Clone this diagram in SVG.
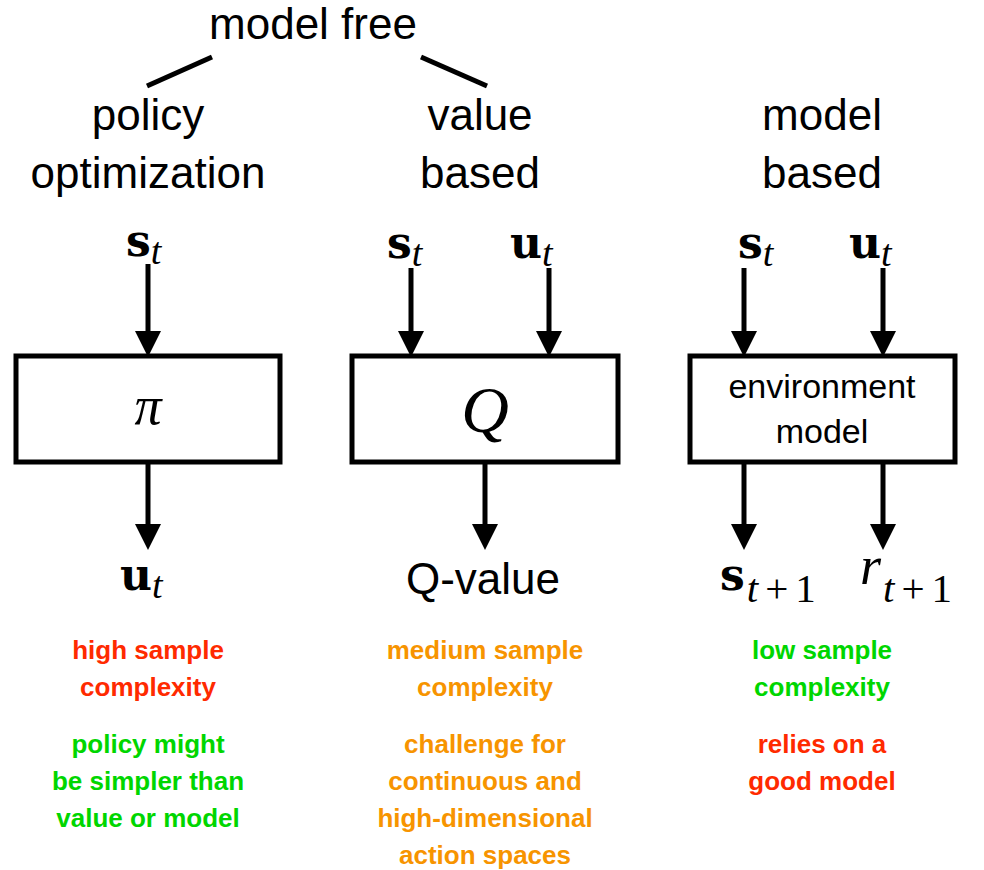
<svg xmlns="http://www.w3.org/2000/svg" width="984" height="870" viewBox="0 0 984 870">
<style>
.h{font-family:"Liberation Sans",Arial,sans-serif;font-size:44px;fill:#000;text-anchor:middle}
.box{fill:#fff;stroke:#000;stroke-width:5}
.ln{stroke:#000;stroke-width:5;fill:none}
.bs{font-family:"DejaVu Serif","Liberation Serif",serif;font-weight:bold;font-size:44px}
.it{font-family:"Liberation Serif","Times New Roman",serif;font-style:italic}
.sub{font-family:"Liberation Serif","Times New Roman",serif;font-size:38px}
.sub2{font-family:"Liberation Serif","Times New Roman",serif;font-size:41px}
.n{font-family:"Liberation Sans",Arial,sans-serif;font-weight:bold;font-size:26px;text-anchor:middle}
.red{fill:#ff2a00}.org{fill:#f79400}.grn{fill:#00d600}
</style>
<defs>
<marker id="ah" markerUnits="userSpaceOnUse" viewBox="0 0 26 26" refX="0" refY="13" markerWidth="26" markerHeight="26" orient="auto">
<path d="M0,0 L26,13 L0,26 Z" fill="#000"/>
</marker>
</defs>

<g id="title">
<text class="h" x="313" y="39">model free</text>
</g>
<g id="cat-policy">
<text class="h" x="148" y="130">policy</text>
<text class="h" x="148" y="188">optimization</text>
</g>
<g id="cat-value">
<text class="h" x="480" y="130">value</text>
<text class="h" x="480" y="188">based</text>
</g>
<g id="cat-model">
<text class="h" x="822" y="130">model</text>
<text class="h" x="822" y="188">based</text>
</g>

<g id="connectors">
<line class="ln" x1="147" y1="86" x2="212" y2="57" stroke-width="6"/>
<line class="ln" x1="421" y1="57" x2="487" y2="86" stroke-width="6"/>
<path class="ln" d="M148,264 V331" marker-end="url(#ah)"/>
<path class="ln" d="M411,268 V331" marker-end="url(#ah)"/>
<path class="ln" d="M549,268 V331" marker-end="url(#ah)"/>
<path class="ln" d="M744,268 V331" marker-end="url(#ah)"/>
<path class="ln" d="M883,268 V331" marker-end="url(#ah)"/>
<path class="ln" d="M148,463 V524" marker-end="url(#ah)"/>
<path class="ln" d="M485,463 V524" marker-end="url(#ah)"/>
<path class="ln" d="M744,463 V524" marker-end="url(#ah)"/>
<path class="ln" d="M883,463 V524" marker-end="url(#ah)"/>
</g>

<g id="in-policy">
<text x="126" y="256"><tspan class="bs">s</tspan><tspan class="sub it" dy="8">t</tspan></text>
</g>
<g id="in-value">
<text x="387" y="258"><tspan class="bs">s</tspan><tspan class="sub it" dy="8">t</tspan></text>
<text x="510" y="258"><tspan class="bs">u</tspan><tspan class="sub it" dy="8">t</tspan></text>
</g>
<g id="in-model">
<text x="738" y="258"><tspan class="bs">s</tspan><tspan class="sub it" dy="8">t</tspan></text>
<text x="849" y="258"><tspan class="bs">u</tspan><tspan class="sub it" dy="8">t</tspan></text>
</g>

<g id="node-pi">
<rect class="box" x="16" y="356" width="264" height="106"/>
<text class="it" x="148" y="424" font-size="54" text-anchor="middle">π</text>
</g>
<g id="node-q">
<rect class="box" x="352" y="356" width="266" height="106"/>
<text class="it" x="485" y="432" font-size="66" text-anchor="middle">Q</text>
</g>
<g id="node-env">
<rect class="box" x="690" y="356" width="265" height="106"/>
<text x="822" y="398" font-family="Liberation Sans,Arial,sans-serif" font-size="34" text-anchor="middle">environment</text>
<text x="822" y="443" font-family="Liberation Sans,Arial,sans-serif" font-size="34" text-anchor="middle">model</text>
</g>

<g id="out-policy">
<text x="120" y="590"><tspan class="bs">u</tspan><tspan class="sub it" dy="8">t</tspan></text>
</g>
<g id="out-value">
<text class="h" x="483" y="594" font-size="42">Q-value</text>
</g>
<g id="out-model">
<text x="720" y="590"><tspan class="bs">s</tspan><tspan class="sub2 it" dy="12" dx="2">t</tspan><tspan class="sub2" dx="7">+</tspan><tspan class="sub2" dx="7">1</tspan></text>
<text x="860" y="584"><tspan class="it" font-size="54">r</tspan><tspan class="sub2 it" dy="18" dx="2">t</tspan><tspan class="sub2" dx="7">+</tspan><tspan class="sub2" dx="7">1</tspan></text>
</g>

<g id="notes-policy">
<text class="n red" x="148" y="659">high sample</text>
<text class="n red" x="148" y="696">complexity</text>
<text class="n grn" x="148" y="753">policy might</text>
<text class="n grn" x="148" y="790">be simpler than</text>
<text class="n grn" x="148" y="827">value or model</text>
</g>
<g id="notes-value">
<text class="n org" x="485" y="659">medium sample</text>
<text class="n org" x="485" y="696">complexity</text>
<text class="n org" x="485" y="753">challenge for</text>
<text class="n org" x="485" y="790">continuous and</text>
<text class="n org" x="485" y="827">high-dimensional</text>
<text class="n org" x="485" y="864">action spaces</text>
</g>
<g id="notes-model">
<text class="n grn" x="822" y="659">low sample</text>
<text class="n grn" x="822" y="696">complexity</text>
<text class="n red" x="822" y="753">relies on a</text>
<text class="n red" x="822" y="790">good model</text>
</g>
</svg>
